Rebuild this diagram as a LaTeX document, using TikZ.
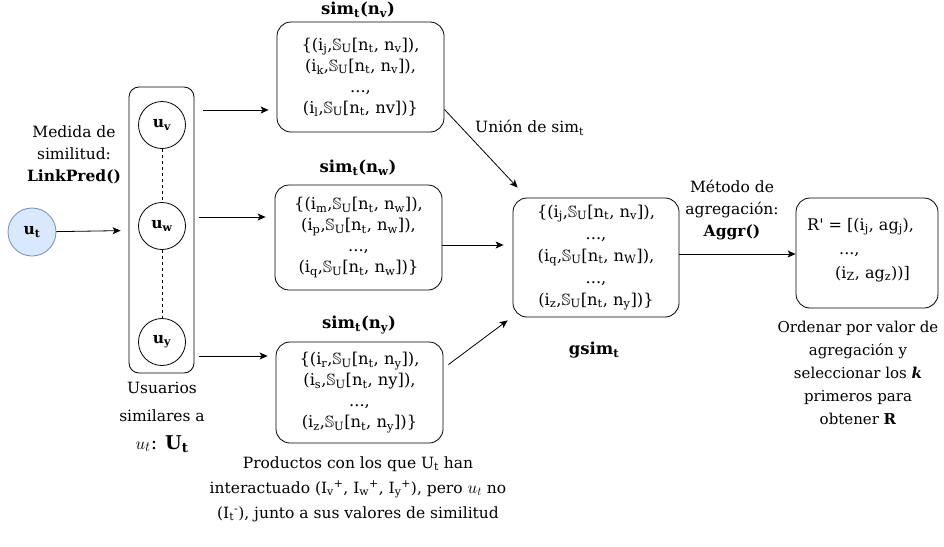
\documentclass[tikz,border=0pt]{standalone}
\usepackage{amssymb}
\usepackage{fontspec}
\setmainfont{DejaVu Serif}
\usetikzlibrary{arrows.meta}

\definecolor{utfill}{HTML}{DAE8FC}
\definecolor{utdraw}{HTML}{6C8EBF}

\newcommand\sbs[1]{\textsubscript{#1}}
\newcommand\simS{$\mathbb{S}$\textsubscript{U}}

\begin{document}
\begin{tikzpicture}[x=1pt,y=-1pt,
  txt/.style={font=\fontsize{15.5}{22}\selectfont, align=center, inner sep=0pt},
  settxt/.style={font=\fontsize{16.3}{21}\selectfont},
  setbox/.style={draw, line width=0.8pt, rounded corners=14pt, txt, settxt},
  ucirc/.style={circle, draw, line width=0.8pt, minimum size=47pt, inner sep=0pt,
    font=\fontsize{15.5}{18}\selectfont\bfseries},
  arr/.style={line width=0.8pt, -{Stealth[length=8pt,width=7pt,inset=2pt]}},
  title/.style={font=\fontsize{16.5}{20}\selectfont\bfseries, inner sep=0pt}]

\useasboundingbox (0,0) rectangle (944,546);

% target user
\node[ucirc, fill=utfill, draw=utdraw, minimum size=48pt] (ut) at (32,232) {u\sbs{t}};

% similar users
\node[draw, line width=0.8pt, rounded corners=10pt, minimum width=65pt, minimum height=286pt]
  (users) at (161.5,230) {};
\node[ucirc] (uv) at (162,125) {u\sbs{v}};
\node[ucirc] (uw) at (162,226) {u\sbs{w}};
\node[ucirc] (uy) at (162,342) {u\sbs{y}};
\draw[dashed, line width=0.6pt] (uv.south) -- (uw.north);
\draw[dashed, line width=0.6pt] (uw.south) -- (uy.north);

\node[txt] (medida) at (74,155)
  {Medida de\\similitud:\\\textbf{LinkPred()}};
\node[txt, font=\fontsize{15.5}{28}\selectfont] (usuarios) at (162,417)
  {Usuarios\\similares a\\{\fontsize{19}{20}\selectfont$u_t$: \textbf{U\sbs{t}}}};

% per-user item sets
\node[setbox, minimum width=167pt, minimum height=110pt] (nv) at (360.5,77)
  {\{(i\sbs{j},\simS[n\sbs{t}, n\sbs{v}]),\\(i\sbs{k},\simS[n\sbs{t}, n\sbs{v}]),\\...,\\(i\sbs{l},\simS[n\sbs{t}, nv])\}};
\node[setbox, minimum width=167pt, minimum height=105pt] (nw) at (358.5,237.5)
  {\{(i\sbs{m},\simS[n\sbs{t}, n\sbs{w}]),\\(i\sbs{p},\simS[n\sbs{t}, n\sbs{w}]),\\...,\\(i\sbs{q},\simS[n\sbs{t}, n\sbs{w}])\}};
\node[setbox, minimum width=167pt, minimum height=101pt] (ny) at (359.5,392.5)
  {\{(i\sbs{r},\simS[n\sbs{t}, n\sbs{y}]),\\(i\sbs{s},\simS[n\sbs{t}, ny]),\\...,\\(i\sbs{z},\simS[n\sbs{t}, n\sbs{y}])\}};
\node[title] (tv) at (358,10) {sim\sbs{t}(n\sbs{v})};
\node[title] (tw) at (358,168) {sim\sbs{t}(n\sbs{w})};
\node[title] (ty) at (359,325) {sim\sbs{t}(n\sbs{y})};

% global set
\node[setbox, minimum width=166pt, minimum height=119pt, font=\fontsize{16.3}{22}\selectfont]
  (gsim) at (596,257.5)
  {\{(i\sbs{j},\simS[n\sbs{t}, n\sbs{v}]),\\...,\\(i\sbs{q},\simS[n\sbs{t}, n\sbs{W}]),\\...,\\(i\sbs{z},\simS[n\sbs{t}, n\sbs{y}])\}};
\node[title] (tg) at (594,350) {gsim\sbs{t}};

% ranking
\node[draw, line width=0.8pt, rounded corners=14pt, minimum width=142pt, minimum height=110pt]
  (rank) at (867,253) {};
\node[txt, align=left, anchor=north west, font=\fontsize{16}{24}\selectfont] (rtext) at (807,218)
  {R\textquotesingle{} = [(i\sbs{j}, ag\sbs{j}),\\\hspace*{32pt}...,\\\hspace*{28pt}(i\sbs{Z}, ag\sbs{z}))]};
\node[txt, font=\fontsize{15}{23}\selectfont] (orden) at (858,373)
  {Ordenar por valor de\\agregación y\\seleccionar los \textbf{\textit{k}}\\primeros para\\obtener \textbf{R}};

\node[txt] (metodo) at (732,210)
  {Método de\\agregación:\\\textbf{Aggr()}};
\node[txt, anchor=west] (union) at (475,128) {Unión de sim\sbs{t}};

\node[txt, font=\fontsize{15.5}{25}\selectfont] (productos) at (358,489)
  {Productos con los que U\sbs{t} han\\interactuado (I\sbs{v}\textsuperscript{+}, I\sbs{w}\textsuperscript{+}, I\sbs{y}\textsuperscript{+}), pero {\fontsize{17}{20}\selectfont$u_t$} no\\(I\sbs{t}\textsuperscript{-}), junto a sus valores de similitud};

% connectors
\coordinate (yv) at (0,110);
\coordinate (yw) at (0,217);
\coordinate (yy) at (0,356);
\coordinate (yg) at (0,245);
\coordinate (yr) at (0,254);
\draw[arr, shorten >=8pt] (ut) -- (users);
\draw[arr] ([xshift=9pt]users.east |- yv) -- ([xshift=-8pt]nv.west |- yv);
\draw[arr] ([xshift=5pt]users.east |- yw) -- ([xshift=-9pt]nw.west |- yw);
\draw[arr] ([xshift=5pt]users.east |- yy) -- ([xshift=-8pt]ny.west |- yy);
\draw[arr] ([yshift=23pt]nv.south east) -- ([xshift=5pt,yshift=10pt]gsim.north west);
\draw[arr] (nw.east |- yg) -- ([xshift=-9pt]gsim.west |- yg);
\draw[arr] ([xshift=5pt,yshift=-23pt]ny.north east) -- ([xshift=-5pt,yshift=-3pt]gsim.south west);
\draw[arr] (gsim.east |- yr) -- (rank.west |- yr);

\end{tikzpicture}
\end{document}
